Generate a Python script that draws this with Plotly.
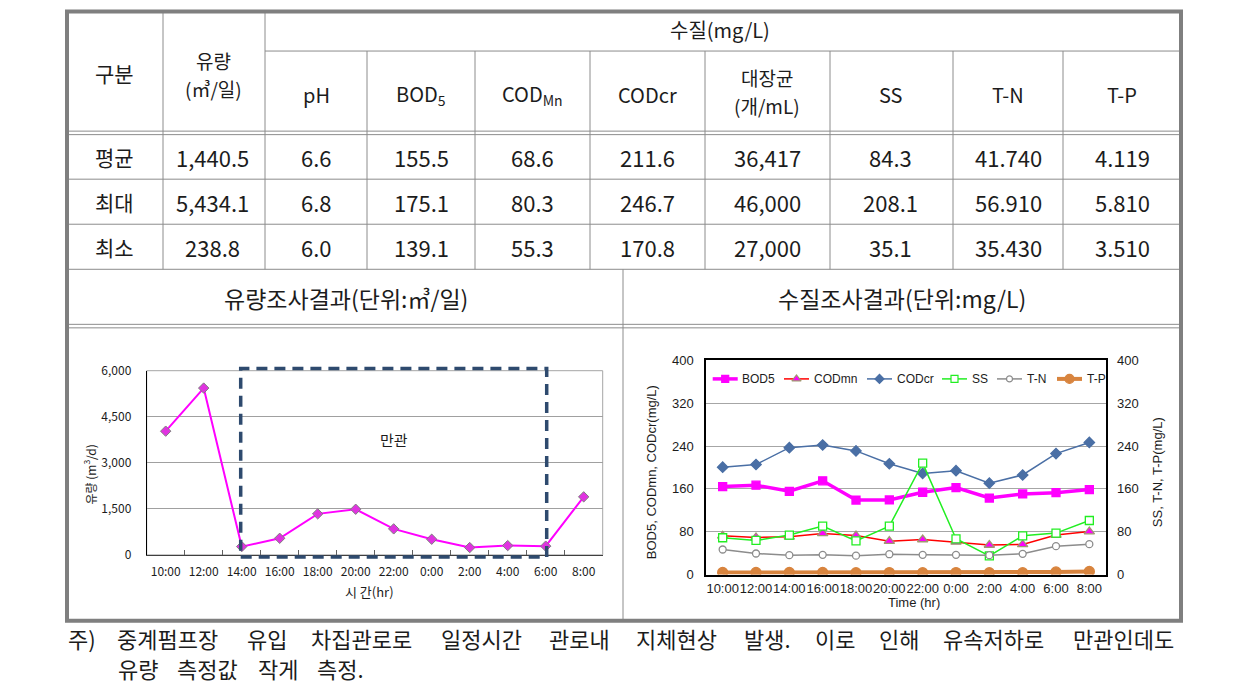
import plotly.graph_objects as go

# figure geometry: the graph div is pinned to the window's top-left corner
FW, FH = 1247, 694
# vertical photo mapping observed in the rendered picture: photo_y = VOFF + VS * page_y
VOFF, VS = 9.0, 0.973
KF = "Noto Sans CJK KR"
AF = "Liberation Sans, Arial"
TXT = "#1c1c1c"
GRID = "#8c8c8c"

# ---------------- data ----------------
times = ["10:00", "12:00", "14:00", "16:00", "18:00", "20:00", "22:00",
         "0:00", "2:00", "4:00", "6:00", "8:00"]
flow = [4030, 5434.1, 270, 541, 1337, 1487, 848, 510, 238.8, 303, 285, 1891]

bod5 = [164.4, 166.9, 155.6, 175.1, 139.1, 139.4, 153.8, 162.5, 143.0, 150.6, 153.0, 158.8]
codmn = [72.5, 69.4, 70.6, 76.9, 73.0, 62.5, 65.6, 61.0, 55.3, 56.3, 74.0, 80.3]
codcr = [200.6, 205.6, 237.0, 242.0, 231.0, 207.0, 189.0, 194.0, 170.8, 186.0, 226.0, 246.7]
ss = [68.8, 63.8, 73.8, 90.6, 63.0, 90.6, 208.1, 66.9, 35.1, 72.5, 77.5, 101.0]
tn = [46.9, 39.4, 36.3, 36.9, 35.43, 38.1, 36.9, 36.9, 36.3, 38.8, 53.1, 56.91]
tp = [4.0, 4.0, 4.0, 4.0, 3.6, 3.8, 3.7, 3.8, 3.51, 3.6, 5.0, 5.81]

row_labels = ["평균", "최대", "최소"]
tbl_flow = ["1,440.5", "5,434.1", "238.8"]
tbl_ph = ["6.6", "6.8", "6.0"]
tbl_bod = ["155.5", "175.1", "139.1"]
tbl_codmn = ["68.6", "80.3", "55.3"]
tbl_codcr = ["211.6", "246.7", "170.8"]
tbl_coli = ["36,417", "46,000", "27,000"]
tbl_ss = ["84.3", "208.1", "35.1"]
tbl_tn = ["41.740", "56.910", "35.430"]
tbl_tp = ["4.119", "5.810", "3.510"]

quality_headers = ["pH", "BOD<sub>5</sub>", "COD<sub>Mn</sub>", "CODcr", "대장균|(개/mL)",
                   "SS", "T-N", "T-P"]

note_line1 = ["주)", "중계펌프장", "유입", "차집관로로", "일정시간", "관로내", "지체현상",
              "발생.", "이로", "인해", "유속저하로", "만관인데도"]
note_line2 = ["유량", "측정값", "작게", "측정."]

series = [
    # name, values, axis, line color, line width, symbol, size, fill, outline
    ("BOD5", bod5, "y2", "#FF00FF", 3.5, "square", 8, "#FF00FF", "#FF00FF"),
    ("CODmn", codmn, "y2", "#FF0000", 1.5, "triangle-up", 9, "#FF00FF", "#A09870"),
    ("CODcr", codcr, "y2", "#4A6FA5", 1.5, "diamond", 8, "#4A6FA5", "#4A6FA5"),
    ("SS", ss, "y3", "#22EE22", 1.5, "square", 8, "white", "#22EE22"),
    ("T-N", tn, "y3", "#8c8c8c", 1.5, "circle", 7, "white", "#8c8c8c"),
    ("T-P", tp, "y3", "#D8843E", 4, "circle", 10, "#D8843E", "#D8843E"),
]


def py(Y):
    """target picture y -> page y"""
    return max(1.5, (Y - VOFF) / VS)


def fx(p):
    return p / FW


def fy(Y):
    return 1 - py(Y) / FH


shapes = []
annots = []


def hline(y, x0, x1, w=1, c=GRID):
    shapes.append(dict(type="line", xref="paper", yref="paper", x0=fx(x0), x1=fx(x1),
                       y0=fy(y), y1=fy(y), line=dict(color=c, width=w)))


def vline(x, y0, y1, w=1, c=GRID):
    shapes.append(dict(type="line", xref="paper", yref="paper", x0=fx(x), x1=fx(x),
                       y0=fy(y0), y1=fy(y1), line=dict(color=c, width=w)))


def txt(x, y, s, size=20, family=KF, xanchor="center", color=TXT, angle=0):
    annots.append(dict(x=fx(x), y=fy(y), xref="paper", yref="paper", text=s, showarrow=False,
                       xanchor=xanchor, yanchor="middle", textangle=angle,
                       font=dict(family=family, size=size, color=color)))


# ---------------- table grid ----------------
L, R, T, B = 67, 1181, 5, 619
hline(50, 265, R)
hline(130, L, R)
hline(133.5, L, R)
hline(178, L, R)
hline(223, L, R)
hline(268, L, R)
hline(323, L, R)
hline(326.5, L, R)
vline(163, T, 268)
vline(265, T, 268)
for xc in [367, 475, 590, 705, 830, 953, 1063]:
    vline(xc, 50, 268)
vline(623, 268, B)
shapes.append(dict(type="rect", xref="paper", yref="paper", x0=fx(L), x1=fx(R), y0=fy(B), y1=fy(T),
                   line=dict(color="#7f7f7f", width=4)))

# ---------------- table text ----------------
txt(114, 72, "구분", size=21)
txt(213, 59, "유량", size=19)
txt(213, 87.5, "(㎥/일)", size=19)
txt(720, 28, "수질(mg/L)", size=20)
qcent = [316, 421, 532, 647, 767, 891, 1008, 1122]
for xc, h in zip(qcent, quality_headers):
    if "|" in h:
        a, b = h.split("|")
        txt(xc, 76, a, size=19)
        txt(xc, 104.5, b, size=19)
    else:
        txt(xc, 93, h, size=20)

cols = [row_labels, tbl_flow, tbl_ph, tbl_bod, tbl_codmn, tbl_codcr, tbl_coli, tbl_ss, tbl_tn, tbl_tp]
ccent = [114, 212] + qcent
rcent = [155.5, 200.5, 245.5]
for xc, col in zip(ccent, cols):
    for yc, v in zip(rcent, col):
        txt(xc, yc, v, size=22 if col is not row_labels else 21)

txt(346, 297, "유량조사결과(단위:㎥/일)", size=23)
txt(902, 297, "수질조사결과(단위:mg/L)", size=23)

# ---------------- footnote ----------------
FS = 22


def wwidth(w):
    return sum(0.3 * FS if ch in ").," else FS for ch in w)


tot = sum(wwidth(w) for w in note_line1)
gap = (1181 - 66 - tot) / (len(note_line1) - 1)
xc = 66
for w in note_line1:
    txt(xc, 636, w, size=FS, xanchor="left")
    xc += wwidth(w) + gap
tot2 = sum(wwidth(w) for w in note_line2)
gap2 = (366 - 116 - tot2) / (len(note_line2) - 1)
xc = 116
for w in note_line2:
    txt(xc, 666, w, size=FS, xanchor="left")
    xc += wwidth(w) + gap2

# ---------------- left chart ----------------
LX0, LX1, LY0, LY1 = 146.7, 602.7, 369.3, 553.3
fig = go.Figure()
fig.add_trace(go.Scatter(
    x=times, y=flow, xaxis="x", yaxis="y", mode="lines+markers", showlegend=False,
    line=dict(color="#FF00FF", width=2),
    marker=dict(symbol="diamond", size=8, color="#E033E0", line=dict(color="#7f7f7f", width=1))))

shapes.append(dict(type="rect", xref="x domain", yref="y domain", x0=0, x1=1, y0=0, y1=1,
                   line=dict(color="#a6a6a6", width=1), layer="below"))
cw = (LX1 - LX0) / len(times)
bx0 = LX0 + (times.index("14:00") + 0.5) * cw - 1
bx1 = LX0 + (times.index("6:00") + 0.5) * cw + 1
shapes.append(dict(type="rect", xref="paper", yref="paper", x0=fx(bx0), x1=fx(bx1),
                   y0=fy(555.5), y1=fy(367),
                   line=dict(color="#2E4A6E", width=3.5, dash="11px,7px")))
annots.append(dict(x=6, y=3760, xref="x", yref="y", text="만관", showarrow=False,
                   xanchor="center", yanchor="middle", font=dict(family=KF, size=15, color=TXT)))
txt(89, 473, "유량 (m<sup>3</sup>/d)", size=12, angle=-90)
txt(369, 590, "시 간(hr)", size=13)

# ---------------- right chart ----------------
for name, vals, ax, lc, lw, sym, sz, fc, oc in series:
    fig.add_trace(go.Scatter(x=times, y=vals, name=name, xaxis="x2", yaxis=ax, mode="lines+markers",
                             showlegend=False, line=dict(color=lc, width=lw),
                             marker=dict(symbol=sym, size=sz, color=fc,
                                         line=dict(color=oc, width=1.3))))

# legend drawn inside the plot box
leg_x = [712.7, 784, 867, 942, 997, 1057]
LEGY = 377.5
for (name, vals, ax, lc, lw, sym, sz, fc, oc), x0 in zip(series, leg_x):
    fig.add_trace(go.Scatter(x=[x0, x0 + 25], y=[py(LEGY)] * 2, xaxis="x4", yaxis="y4", mode="lines",
                             showlegend=False, hoverinfo="skip", line=dict(color=lc, width=lw)))
    fig.add_trace(go.Scatter(x=[x0 + 12.5], y=[py(LEGY)], xaxis="x4", yaxis="y4", mode="markers",
                             showlegend=False, hoverinfo="skip",
                             marker=dict(symbol=sym, size=sz - 1, color=fc,
                                         line=dict(color=oc, width=1.2))))
    txt(x0 + 27.5, LEGY, name, size=12, family=AF, xanchor="left")

txt(651, 470.7, "BOD5, CODmn, CODcr(mg/L)", size=13, family=AF, angle=-90)
txt(1157, 470.7, "SS, T-N, T-P(mg/L)", size=13, family=AF, angle=-90)
txt(914, 601, "Time (hr)", size=13, family=AF)

fig.update_layout(
    margin=dict(l=0, r=0, t=0, b=0), autosize=True,
    paper_bgcolor="white", plot_bgcolor="rgba(0,0,0,0)",
    shapes=shapes, annotations=annots, showlegend=False,
    xaxis=dict(domain=[fx(LX0), fx(LX1)], anchor="y", type="category", range=[-0.5, 11.5],
               showline=True, linecolor="#404040", linewidth=1, showgrid=False, tickangle=0,
               ticks="inside", tickson="boundaries", ticklen=5, tickcolor="#606060",
               tickfont=dict(family=KF, size=12, color=TXT), ticklabelstandoff=6),
    yaxis=dict(domain=[fy(LY1), fy(LY0)], anchor="x", range=[0, 6000],
               tickvals=[0, 1500, 3000, 4500, 6000], tickformat=",d",
               showline=True, linecolor="#000000", linewidth=1, gridcolor="#a0a0a0", zeroline=False,
               ticks="", tickfont=dict(family=KF, size=12, color=TXT), ticklabelstandoff=12),
    xaxis2=dict(domain=[fx(706), fx(1106)], anchor="y2", type="category", range=[-0.5, 11.5],
                showline=True, mirror=True, linecolor="#000000", linewidth=1.5, showgrid=False,
                tickangle=0, ticks="", tickfont=dict(family=AF, size=13, color=TXT),
                ticklabelstandoff=1),
    yaxis2=dict(domain=[fy(573), fy(359)], anchor="x2", range=[0, 400], dtick=80,
                showline=True, mirror=True, linecolor="#000000", linewidth=1.5,
                gridcolor="#a6a6a6", zeroline=False, ticks="",
                tickfont=dict(family=AF, size=13, color=TXT), ticklabelstandoff=8),
    yaxis3=dict(overlaying="y2", side="right", anchor="x2", range=[0, 400], dtick=80,
                showgrid=False, showline=False, zeroline=False, ticks="",
                tickfont=dict(family=AF, size=13, color=TXT), ticklabelstandoff=10),
    xaxis4=dict(domain=[0, 1], anchor="y4", range=[0, FW], visible=False, fixedrange=True),
    yaxis4=dict(domain=[0, 1], anchor="x4", range=[FH, 0], visible=False, fixedrange=True),
)

fig.write_html("out.html",
               config={"displayModeBar": False},
               default_width=f"{FW}px;position:fixed;left:0;top:0",
               default_height=f"{FH}px")
